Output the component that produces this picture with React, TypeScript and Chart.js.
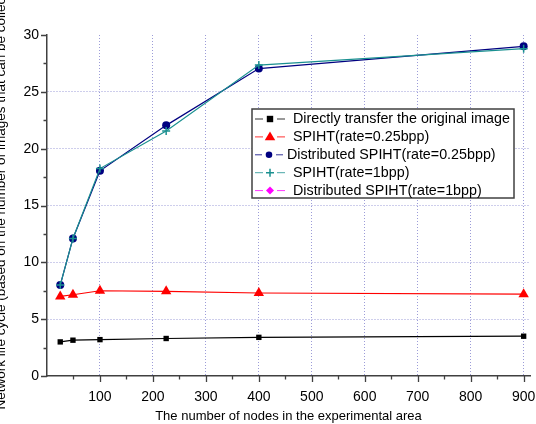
import { useEffect, useRef } from 'react';
import { Chart, registerables } from 'chart.js';

Chart.register(...registerables);

// ---- data ----
const nodes = [25, 49, 100, 225, 400, 900];
const directTransfer = [3.0, 3.15, 3.2, 3.3, 3.4, 3.5];
const spiht025 = [7.0, 7.15, 7.5, 7.45, 7.3, 7.2];
const distSpiht025 = [8.0, 12.1, 18.05, 22.05, 27.05, 29.0];
const spiht1 = [8.0, 12.1, 18.25, 21.55, 27.35, 28.8];
const distSpiht1: number[] = [];

const seriesNames = [
  'Directly transfer the original image',
  'SPIHT(rate=0.25bpp)',
  'Distributed SPIHT(rate=0.25bpp)',
  'SPIHT(rate=1bpp)',
  'Distributed SPIHT(rate=1bpp)',
];

const xMajorTicks = [100, 200, 300, 400, 500, 600, 700, 800, 900];
const xMinorTicks = [50, 150, 250, 350, 450, 550, 650, 750, 850];
const yMajorTicks = [0, 5, 10, 15, 20, 25, 30];
const yMinorTicks = [2.5, 7.5, 12.5, 17.5, 22.5, 27.5];

const xAxisTitle = 'The number of nodes in the experimental area';
const yAxisTitle =
  'Network life cycle (based on the number of images that can be collected)';

const FONT = '"Liberation Sans", Arial, Helvetica, sans-serif';
const AXIS_COLOR = '#404040';
const GRID_COLOR = '#9c9cd8';

const styles = [
  { color: '#000000', point: 'rect', radius: 3.8, fill: '#000000' },
  { color: '#ff0000', point: 'triangle', radius: 6, fill: '#ff0000' },
  { color: '#000080', point: 'circle', radius: 4, fill: '#000080' },
  { color: '#1a9090', point: 'cross', radius: 4, fill: '#1a9090' },
  { color: '#ff00ff', point: 'rectRot', radius: 5, fill: '#ff00ff' },
];

function toPoints(ys: number[]) {
  return ys.map((y, i) => ({ x: nodes[i], y }));
}

function drawMarker(ctx: CanvasRenderingContext2D, kind: string, x: number, y: number, r: number, color: string) {
  ctx.save();
  ctx.fillStyle = color;
  ctx.strokeStyle = color;
  ctx.lineWidth = 1.5;
  ctx.beginPath();
  if (kind === 'rect') {
    ctx.rect(x - r, y - r, 2 * r, 2 * r);
    ctx.fill();
  } else if (kind === 'triangle') {
    ctx.moveTo(x, y - r);
    ctx.lineTo(x + r * 0.95, y + r * 0.6);
    ctx.lineTo(x - r * 0.95, y + r * 0.6);
    ctx.closePath();
    ctx.fill();
  } else if (kind === 'circle') {
    ctx.arc(x, y, r, 0, Math.PI * 2);
    ctx.fill();
  } else if (kind === 'cross') {
    ctx.moveTo(x - r, y);
    ctx.lineTo(x + r, y);
    ctx.moveTo(x, y - r);
    ctx.lineTo(x, y + r);
    ctx.stroke();
  } else if (kind === 'rectRot') {
    ctx.moveTo(x, y - r);
    ctx.lineTo(x + r, y);
    ctx.lineTo(x, y + r);
    ctx.lineTo(x - r, y);
    ctx.closePath();
    ctx.fill();
  }
  ctx.restore();
}

const tickMarksPlugin = {
  id: 'tickMarks',
  afterDraw(chart: any) {
    const { ctx, chartArea } = chart;
    const xs = chart.scales.x;
    const ys = chart.scales.y;
    ctx.save();
    ctx.strokeStyle = AXIS_COLOR;
    ctx.lineWidth = 1.3;
    ctx.beginPath();
    for (const v of xMajorTicks) {
      const p = Math.round(xs.getPixelForValue(v)) + 0.5;
      ctx.moveTo(p, chartArea.bottom);
      ctx.lineTo(p, chartArea.bottom + 6);
    }
    for (const v of xMinorTicks) {
      const p = Math.round(xs.getPixelForValue(v)) + 0.5;
      ctx.moveTo(p, chartArea.bottom);
      ctx.lineTo(p, chartArea.bottom + 3.5);
    }
    for (const v of yMajorTicks) {
      const p = Math.round(ys.getPixelForValue(v)) + 0.5;
      ctx.moveTo(chartArea.left - 6, p);
      ctx.lineTo(chartArea.left, p);
    }
    for (const v of yMinorTicks) {
      const p = Math.round(ys.getPixelForValue(v)) + 0.5;
      ctx.moveTo(chartArea.left - 3.5, p);
      ctx.lineTo(chartArea.left, p);
    }
    ctx.stroke();

    // y-axis title (partially clipped at the canvas edges as in the reference)
    ctx.translate(1, 192);
    ctx.rotate(-Math.PI / 2);
    ctx.font = `13.5px ${FONT}`;
    ctx.fillStyle = '#000000';
    ctx.textAlign = 'center';
    ctx.textBaseline = 'middle';
    ctx.fillText(yAxisTitle, 0, 0);
    ctx.restore();
  },
};

const legendPlugin = {
  id: 'insideLegend',
  afterDraw(chart: any) {
    const { ctx } = chart;
    const left = 252;
    const top = 109;
    const w = 262;
    const h = 89;
    ctx.save();
    ctx.fillStyle = '#ffffff';
    ctx.fillRect(left, top, w, h);
    ctx.strokeStyle = AXIS_COLOR;
    ctx.lineWidth = 1.5;
    ctx.strokeRect(left, top, w, h);
    ctx.font = `14.3px ${FONT}`;
    ctx.textBaseline = 'middle';
    ctx.textAlign = 'left';
    chart.data.datasets.forEach((ds: any, i: number) => {
      const st = styles[i];
      const cy = top + 9.5 + i * 17.9;
      const compact = i === 2;
      const x0 = left + 3;
      const x1 = compact ? left + 31 : left + 33;
      const mx = (x0 + x1) / 2;
      ctx.strokeStyle = st.color;
      ctx.lineWidth = 1;
      ctx.globalAlpha = 0.8;
      ctx.beginPath();
      ctx.moveTo(x0, cy + 0.5);
      ctx.lineTo(mx - 7, cy + 0.5);
      ctx.moveTo(mx + 7, cy + 0.5);
      ctx.lineTo(x1, cy + 0.5);
      ctx.stroke();
      ctx.globalAlpha = 1;
      const r = st.point === 'triangle' ? 5.5 : st.point === 'rect' ? 3.2 : st.point === 'circle' ? 3.3 : 4;
      drawMarker(ctx, st.point, mx, cy + 0.5, r, st.fill);
      ctx.fillStyle = '#000000';
      ctx.fillText(ds.label, compact ? left + 35 : left + 41, cy + 1);
    });
    ctx.restore();
  },
};

export default function App() {
  const canvasRef = useRef<HTMLCanvasElement | null>(null);

  useEffect(() => {
    if (!canvasRef.current) return;
    Chart.defaults.font.family = FONT;
    const seriesData = [directTransfer, spiht025, distSpiht025, spiht1, distSpiht1];
    const chart = new Chart(canvasRef.current, {
      type: 'line',
      data: {
        datasets: seriesData.map((d, i) => ({
          label: seriesNames[i],
          data: toPoints(d),
          borderColor: styles[i].color,
          backgroundColor: styles[i].fill,
          pointBackgroundColor: styles[i].fill,
          pointBorderColor: styles[i].color,
          pointStyle: styles[i].point as any,
          pointRadius: styles[i].radius,
          pointBorderWidth: styles[i].point === 'cross' ? 1.5 : 0,
          borderWidth: 1.2,
          tension: 0,
          fill: false,
          order: 5 - i,
        })),
      },
      options: {
        animation: false,
        responsive: false,
        devicePixelRatio: 1,
        layout: { padding: { left: 0, top: 35, right: 3, bottom: 0 } },
        plugins: {
          legend: { display: false },
          tooltip: { enabled: false },
        },
        scales: {
          x: {
            type: 'linear',
            min: 0,
            max: 912,
            afterBuildTicks: (s: any) => {
              s.ticks = xMajorTicks.map((v) => ({ value: v }));
            },
            afterFit: (s: any) => {
              s.height = 48;
              s.paddingLeft = 0;
              s.paddingRight = 0;
            },
            ticks: {
              autoSkip: false,
              maxRotation: 0,
              padding: 13,
              color: '#000000',
              font: { size: 14 },
              callback: (v: any) => String(v),
            },
            grid: {
              drawTicks: false,
              color: GRID_COLOR,
              lineWidth: 1,
            },
            border: { color: AXIS_COLOR, width: 1.5, dash: [1, 2] },
            title: {
              display: true,
              text: xAxisTitle,
              color: '#000000',
              font: { size: 13 },
              padding: { top: 0, bottom: 0 },
            },
          },
          y: {
            type: 'linear',
            min: 0,
            max: 30,
            afterBuildTicks: (s: any) => {
              s.ticks = yMajorTicks.map((v) => ({ value: v }));
            },
            afterFit: (s: any) => {
              s.width = 47;
              s.paddingTop = 0;
              s.paddingBottom = 0;
            },
            ticks: {
              autoSkip: false,
              padding: 8,
              color: '#000000',
              font: { size: 14 },
              callback: (v: any) => String(v),
            },
            grid: {
              drawTicks: false,
              color: (c: any) =>
                c.tick && (c.tick.value === 0 || c.tick.value === 30) ? 'rgba(0,0,0,0)' : GRID_COLOR,
              lineWidth: 1,
            },
            border: { color: AXIS_COLOR, width: 1.5, dash: [1, 2] },
            title: { display: false },
          },
        },
      },
      plugins: [tickMarksPlugin, legendPlugin],
    });
    return () => chart.destroy();
  }, []);

  return (
    <div style={{ position: 'absolute', left: 0, top: 0, width: 536, height: 424, background: '#fff' }}>
      <canvas ref={canvasRef} width={536} height={424} style={{ display: 'block' }} />
    </div>
  );
}
